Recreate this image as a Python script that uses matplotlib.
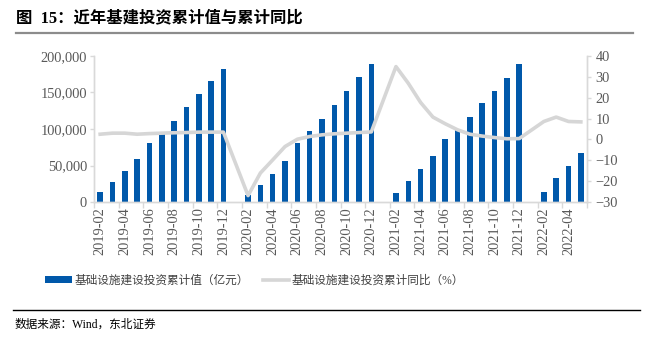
import matplotlib.pyplot as plt
import numpy as np
from matplotlib.patches import Patch
from matplotlib.lines import Line2D
from matplotlib.ticker import FuncFormatter

plt.rcParams['font.family'] = ['Liberation Serif', 'Noto Sans CJK SC', 'DejaVu Sans']

# months 2019-02 .. 2022-05 (January has no data)
months = []
for y in range(2019, 2023):
    for m in range(1, 13):
        if (y == 2019 and m < 2) or (y == 2022 and m > 5):
            continue
        months.append(f"{y}-{m:02d}")

# cumulative infrastructure investment (亿元), None = January
cum_value = [13200, 27800, 42800, 58800, 80600, 92900, 111200, 129800, 147600, 165400, 182700,
             None, 9000, 23700, 38700, 56500, 80200, 96600, 113400, 133000, 151700, 170800, 188600,
             None, 12800, 29200, 45600, 62400, 86100, 99800, 116200, 135300, 152600, 170400, 189000,
             None, 13700, 32300, 49200, 67000]

# cumulative YoY (%)
cum_yoy = [2.5, 3.0, 3.0, 2.5, 2.8, 3.0, 3.2, 3.3, 3.5, 3.5, 3.5,
           None, -26.9, -16.1, -9.8, -3.4, 0.1, 1.4, 2.2, 2.7, 3.0, 3.3, 3.6,
           None, 34.9, 26.9, 17.7, 10.7, 7.5, 4.6, 2.5, 1.6, 0.9, 0.3, 0.4,
           None, 8.6, 10.7, 8.6, 8.4]

bar_color = '#0058AA'
line_color = '#D6D6D6'
tick_color = '#595959'
spine_color = '#D9D9D9'

fig = plt.figure(figsize=(6.51, 3.39), dpi=100)
ax = fig.add_axes([0.1444, 0.404, 0.9017 - 0.1444, 0.835 - 0.404])
ax2 = ax.twinx()

x = np.arange(len(months))
bar_vals = [np.nan if v is None else v for v in cum_value]
ax.bar(x, bar_vals, width=0.45, color=bar_color, zorder=2)

lx = [i for i, v in enumerate(cum_yoy) if v is not None]
ly = [v for v in cum_yoy if v is not None]
ax2.plot(lx, ly, color=line_color, lw=2.6, solid_joinstyle='round', zorder=3)

ax.set_xlim(-0.5, len(months) - 0.5)
ax.set_ylim(0, 200000)
ax.set_yticks(range(0, 200001, 50000))
ax.yaxis.set_major_formatter(FuncFormatter(lambda v, p: f"{int(v):,}"))
ax2.set_ylim(-30, 40)
ax2.set_yticks(range(-30, 41, 10))

ax.set_xticks(x[::2])
ax.set_xticklabels(months[::2], rotation=90)
ax.set_xticks(np.arange(-0.5, len(months), 2), minor=True)
ax.tick_params(axis='x', which='major', length=0, pad=4)
ax.tick_params(axis='x', which='minor', length=4, color=spine_color, width=1)

for a in (ax, ax2):
    a.tick_params(axis='y', length=3, color=spine_color, width=1, labelcolor=tick_color, labelsize=10.4)
    a.spines['top'].set_visible(False)
    for s in ('left', 'right', 'bottom'):
        a.spines[s].set_color(spine_color)
        a.spines[s].set_linewidth(1)
ax.tick_params(axis='x', labelcolor=tick_color, labelsize=10.4)
ax.tick_params(axis='y', pad=2)
ax2.tick_params(axis='y', pad=3)
ax.set_zorder(ax2.get_zorder() - 1)
ax.patch.set_visible(False)

# title and rule
fig.text(16 / 651, 1 - 18 / 339, "图  15：近年基建投资累计值与累计同比", fontsize=11.8,
         fontweight='bold', va='center', ha='left', color='black')
fig.add_artist(Line2D([16 / 651, 633 / 651], [1 - 33 / 339] * 2, color='#8C8C8C', lw=1.6))

# legend
handles = [Patch(facecolor=bar_color, edgecolor='none'),
           Line2D([0], [0], color=line_color, lw=2.6)]
labels = ["基础设施建设投资累计值（亿元）", "基础设施建设投资累计同比（%）"]
fig.legend(handles, labels, loc='center', bbox_to_anchor=(0.391, 1 - 281 / 339), ncol=2,
           frameon=False, fontsize=8.4, handlelength=2.3, handleheight=0.55, handletextpad=0.2,
           columnspacing=1.2, labelcolor='#404040')

# source
fig.add_artist(Line2D([13 / 651, 640 / 651], [1 - 310 / 339] * 2, color='black', lw=1))
fig.text(14 / 651, 1 - 325 / 339, "数据来源：Wind，东北证券", fontsize=8.4, va='center', ha='left')

fig.savefig('out.png', dpi=100)
